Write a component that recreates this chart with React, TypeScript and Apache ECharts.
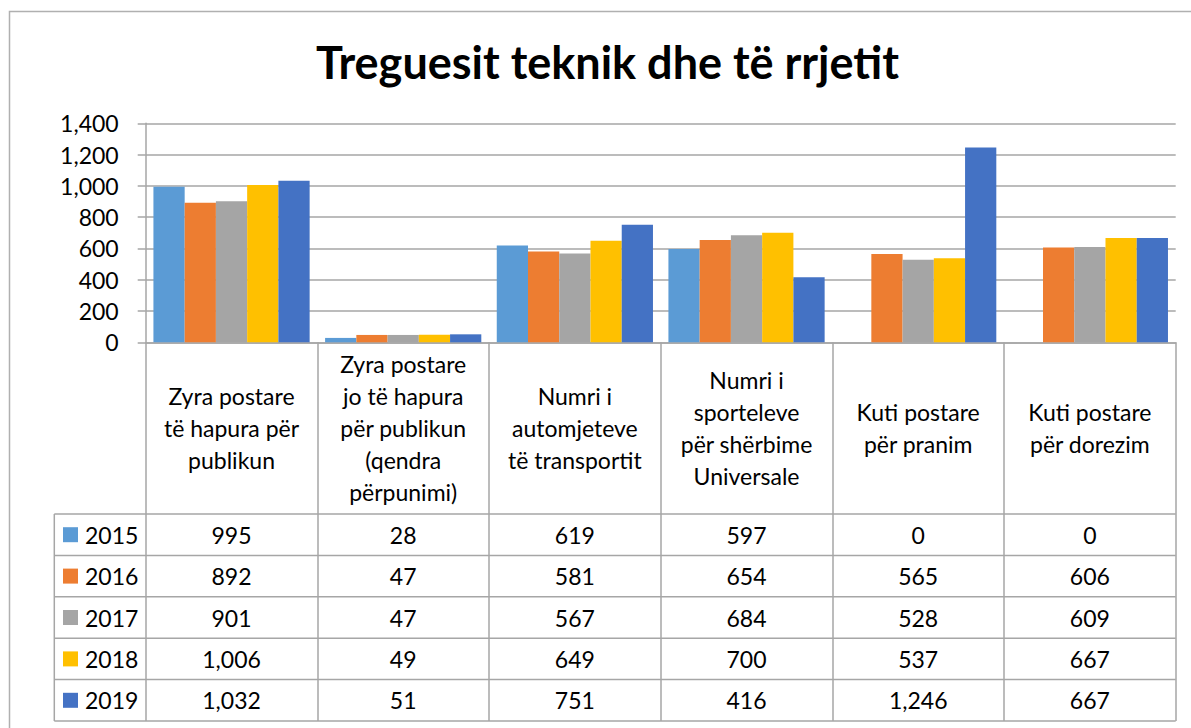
import React, { useEffect, useRef } from "react";
import * as echarts from "echarts";

const categories = [
  "Zyra postare\ntë hapura për\npublikun",
  "Zyra postare\njo të hapura\npër publikun\n(qendra\npërpunimi)",
  "Numri i\nautomjeteve\ntë transportit",
  "Numri i\nsporteleve\npër shërbime\nUniversale",
  "Kuti postare\npër pranim",
  "Kuti postare\npër dorezim",
];
const years = ["2015", "2016", "2017", "2018", "2019"];
const v2015 = [995, 28, 619, 597, 0, 0];
const v2016 = [892, 47, 581, 654, 565, 606];
const v2017 = [901, 47, 567, 684, 528, 609];
const v2018 = [1006, 49, 649, 700, 537, 667];
const v2019 = [1032, 51, 751, 416, 1246, 667];
const seriesValues = [v2015, v2016, v2017, v2018, v2019];
const colors = ["#5B9BD5", "#ED7D31", "#A5A5A5", "#FFC000", "#4472C4"];
const yTicks = { min: 0, max: 1400, interval: 200 };
const title = "Treguesit teknik dhe të rrjetit";

const W = 1191;
const H = 728;
const plotLeft = 145.7;
const plotRight = 1175.7;
const plotTop = 123.3;
const plotBottom = 342.3;
const tableTop = 514;
const rowH = 41.4;
const tableLeft = 54.3;
const lineColor = "#a6a6a6";
const FONT = "Lato, 'Open Sans', sans-serif";
const FS = 23;

const fmt = (v: number) => v.toLocaleString("en-US");

export default function App() {
  const ref = useRef<HTMLDivElement>(null);
  useEffect(() => {
    if (!ref.current) return;
    const chart = echarts.init(ref.current, undefined, { renderer: "svg" });
    const tableBottom = tableTop + rowH * years.length;
    const rowCenters = years.map((_, i) => tableTop + rowH * (i + 0.5));

    const valueAxes = seriesValues.map((vals, i) => ({
      type: "category" as const,
      gridIndex: 0,
      position: "bottom" as const,
      offset: rowCenters[i] - plotBottom,
      data: vals.map(fmt),
      axisLine: { show: false },
      axisTick: { show: false },
      splitLine: { show: false },
      axisLabel: {
        interval: 0,
        margin: 0,
        verticalAlign: "middle",
        fontFamily: FONT,
        fontSize: FS,
        color: "#000",
      },
    }));

    const graphics: any[] = [
      {
        type: "rect",
        shape: { x: 9.5, y: 11.5, width: 1300, height: 900 },
        style: { fill: "none", stroke: "#b0b0b0", lineWidth: 1.5 },
        silent: true,
      },
      {
        type: "line",
        shape: { x1: tableLeft, y1: tableTop, x2: tableLeft, y2: tableBottom },
        style: { stroke: lineColor, lineWidth: 1.5 },
        silent: true,
      },
    ];
    for (let i = 0; i <= years.length; i++) {
      const y = tableTop + rowH * i;
      graphics.push({
        type: "line",
        shape: { x1: tableLeft, y1: y, x2: plotRight, y2: y },
        style: { stroke: lineColor, lineWidth: 1.5 },
        silent: true,
      });
    }

    chart.setOption({
      animation: false,
      backgroundColor: "#fff",
      title: {
        text: title,
        left: 316,
        top: 39,
        padding: 0,
        textStyle: {
          fontFamily: FONT,
          fontWeight: "bold",
          fontSize: 45,
          color: "#000",
        },
      },
      legend: {
        orient: "vertical",
        left: 63,
        top: rowCenters[0] - FS / 2,
        padding: 0,
        itemWidth: 15,
        itemHeight: 15,
        itemGap: rowH - FS,
        icon: "rect",
        data: years,
        textStyle: {
          fontFamily: FONT,
          fontSize: FS,
          lineHeight: FS,
          color: "#000",
          padding: [0, 0, 0, 2],
        },
      },
      grid: {
        left: plotLeft,
        right: W - plotRight,
        top: plotTop,
        bottom: H - plotBottom,
        containLabel: false,
      },
      xAxis: [
        {
          type: "category",
          data: categories,
          axisLine: { show: true, lineStyle: { color: lineColor, width: 1.5 } },
          axisTick: {
            show: true,
            interval: 0,
            alignWithLabel: false,
            length: tableBottom - plotBottom,
            lineStyle: { color: lineColor, width: 1.5 },
          },
          axisLabel: {
            interval: 0,
            margin: (tableTop + plotBottom) / 2 - plotBottom,
            verticalAlign: "middle",
            fontFamily: FONT,
            fontSize: FS,
            lineHeight: 32,
            color: "#000",
          },
          splitLine: { show: false },
        },
        ...valueAxes,
      ],
      yAxis: {
        type: "value",
        min: yTicks.min,
        max: yTicks.max,
        interval: yTicks.interval,
        axisLine: { show: true, lineStyle: { color: lineColor, width: 1.5 } },
        axisTick: { show: true, length: 8, lineStyle: { color: lineColor, width: 1.5 } },
        axisLabel: {
          margin: 27,
          fontFamily: FONT,
          fontSize: FS,
          color: "#000",
          formatter: (v: number) => fmt(v),
        },
        splitLine: { show: true, lineStyle: { color: lineColor, width: 1.5 } },
      },
      series: years.map((y, i) => ({
        name: y,
        type: "bar",
        xAxisIndex: 0,
        data: seriesValues[i],
        barGap: "0%",
        barCategoryGap: "9%",
        itemStyle: { color: colors[i] },
      })),
      graphic: graphics,
    });
    return () => chart.dispose();
  }, []);
  return (
    <div
      ref={ref}
      style={{ position: "fixed", left: 0, top: 0, width: W, height: H, background: "#fff" }}
    />
  );
}
